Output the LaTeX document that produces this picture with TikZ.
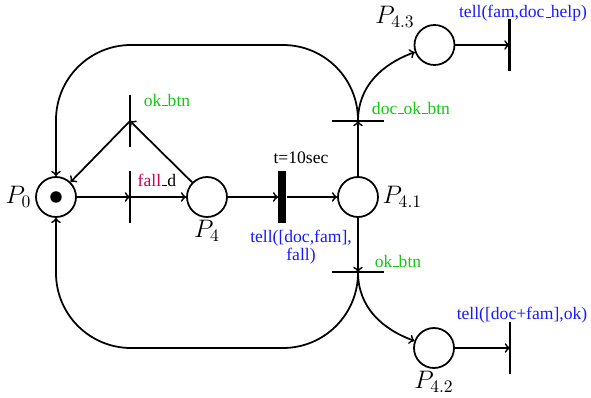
\documentclass[tikz,border=0pt]{standalone}
\usepackage{fontspec}
\setmainfont{Liberation Serif}
\usepackage{tikz}
\usetikzlibrary{positioning}
\definecolor{btngreen}{RGB}{20,200,20}
\definecolor{falred}{RGB}{200,0,80}
\definecolor{tellblue}{RGB}{25,25,255}
% short underscore as in the labels
\newcommand{\us}{\leavevmode\kern.06em\vbox{\hrule width.3em}}
\tikzset{
  place/.style={draw, circle, line width=1pt, minimum size=0.8cm, inner sep=0pt},
  bar/.style={fill=black, minimum width=0.055cm, minimum height=1.04cm, inner sep=0pt},
  hbar/.style={fill=black, minimum width=1.05cm, minimum height=0.055cm, inner sep=0pt},
  timedbar/.style={fill=black, minimum width=0.16cm, minimum height=1.04cm, inner sep=0pt},
  arc/.style={->, line width=1pt},
  plabel/.style={font=\Large, inner sep=1pt},
}

\begin{document}
\begin{tikzpicture}[every node/.style={font=\normalsize}]
\useasboundingbox (0,0) rectangle (11.82,7.96);
% Places
\node[place] (p0) at (1.12,4.02) {};
\node[circle, fill=black, minimum size=0.23cm, inner sep=0pt] (tok) at (p0) {};
\node[place] (p4) at (4.14,4.02) {};
\node[place] (p41) at (7.16,4.02) {};
\node[place] (p43) at (8.69,7.06) {};
\node[place] (p42) at (8.68,1.00) {};
% Transitions
\node[bar] (tfall) at (2.60,4.02) {};
\node[bar] (tok4) at (2.60,5.54) {};
\node[timedbar] (t10) at (5.65,4.02) {};
\node[hbar] (tdok) at (7.16,5.54) {};
\node[hbar] (tokb) at (7.16,2.52) {};
\node[bar] (t43) at (10.19,7.06) {};
\node[bar] (t42) at (10.20,1.00) {};
% Place labels
\node[plabel, left=1pt of p0] (lp0) {$P_0$};
\node[plabel, below=0pt of p4] (lp4) {$P_4$};
\node[plabel, right=1pt of p41] (lp41) {$P_{4.1}$};
\node[plabel] (lp43) at (7.90,7.62) {$P_{4.3}$};
\node[plabel, below=0pt of p42] (lp42) {$P_{4.2}$};
% Transition labels
\node[text=btngreen] (lok4) at (3.34,5.96) {ok\us btn};
\node[] (lfall) at (3.14,4.36) {\textcolor{falred}{fall}\us d};
\node[] (lt10) at (6.02,4.80) {t=10sec};
\node[text=tellblue, align=center, inner sep=1pt] (ltell) at (6.02,3.02) {tell([doc,fam],\\[-2pt]fall)};
\node[text=btngreen] (ldok) at (8.22,5.80) {doc\us ok\us btn};
\node[text=btngreen] (lokb) at (7.96,2.74) {ok\us btn};
\node[text=tellblue] (lt43) at (10.46,7.70) {tell(fam,doc\us help)};
\node[text=tellblue] (lt42) at (10.44,1.66) {tell([doc+fam],ok)};
% Arcs
\draw[arc] (p0) -- (tfall.center);
\draw[arc] (tfall.center) -- (p4);
\draw[arc] (p4) -- (tok4.center);
\draw[arc] (tok4.center) -- (p0);
\draw[arc] (p4) -- (t10);
\draw[arc] (t10) -- (p41);
\draw[arc] (p41) -- (tdok.center);
\draw[arc] (p41) -- (tokb.center);
\draw[arc] (tdok.center) to[out=90, in=200] (p43);
\draw[arc] (tokb.center) to[out=-90, in=160] (p42);
\draw[arc] (p43) -- (t43.center);
\draw[arc] (p42) -- (t42.center);
% Loops back to P0
\coordinate (topleft) at (1.12,7.06);
\coordinate (botleft) at (1.12,1.00);
\draw[arc, rounded corners=1.5cm] (tdok.center) |- (topleft) -- (p0);
\draw[arc, rounded corners=1.5cm] (tokb.center) |- (botleft) -- (p0);
\end{tikzpicture}
\end{document}
